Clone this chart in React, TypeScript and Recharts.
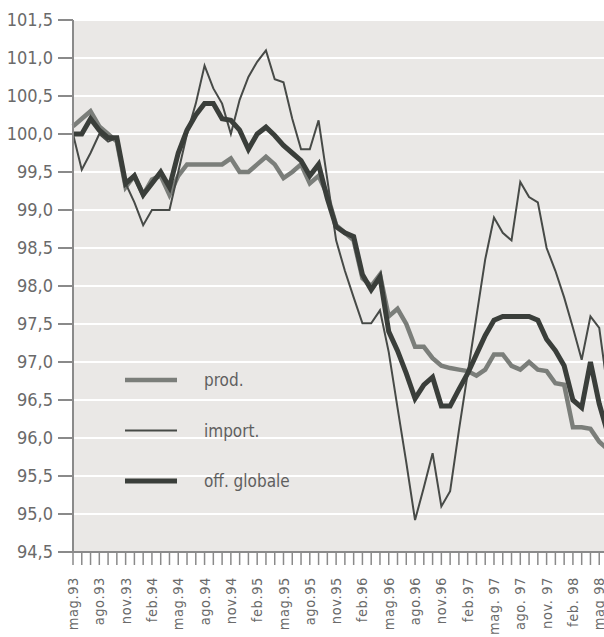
import { LineChart, Line, XAxis, YAxis, CartesianGrid, Legend } from "recharts";

// monthly index, mag. 1993 - giu. 1998
const months = [
  "mag.93", "giu.93", "lug.93", "ago.93", "set.93", "ott.93", "nov.93", "dic.93",
  "gen.94", "feb.94", "mar.94", "apr.94", "mag.94", "giu.94", "lug.94", "ago.94", "set.94", "ott.94", "nov.94", "dic.94",
  "gen.95", "feb.95", "mar.95", "apr.95", "mag.95", "giu.95", "lug.95", "ago.95", "set.95", "ott.95", "nov.95", "dic.95",
  "gen.96", "feb.96", "mar.96", "apr.96", "mag.96", "giu.96", "lug.96", "ago.96", "set.96", "ott.96", "nov.96", "dic.96",
  "gen.97", "feb.97", "mar.97", "apr.97", "mag.97", "giu.97", "lug.97", "ago.97", "set.97", "ott.97", "nov.97", "dic.97",
  "gen.98", "feb.98", "mar.98", "apr.98", "mag.98", "giu.98",
];

// one label every third month
const tickLabels = [
  "mag.93", "ago.93", "nov.93", "feb.94", "mag.94", "ago.94", "nov.94", "feb.95", "mag.95", "ago.95",
  "nov.95", "feb.96", "mag.96", "ago.96", "nov.96", "feb.97", "mag. 97", "ago. 97", "nov. 97", "feb. 98", "mag 98",
];

const prod = [
  100.1, 100.2, 100.3, 100.1, 100.0, 99.9, 99.3, 99.45, 99.2, 99.4,
  99.45, 99.2, 99.45, 99.6, 99.6, 99.6, 99.6, 99.6, 99.68, 99.5,
  99.5, 99.6, 99.7, 99.6, 99.42, 99.5, 99.6, 99.35, 99.45, 99.2,
  98.8, 98.7, 98.6, 98.1, 98.0, 98.15, 97.6, 97.7, 97.5, 97.2,
  97.2, 97.05, 96.95, 96.92, 96.9, 96.88, 96.82, 96.9, 97.1, 97.1,
  96.95, 96.9, 97.0, 96.9, 96.88, 96.72, 96.7, 96.14, 96.14, 96.12,
  95.95, 95.85,
];

const importVals = [
  100.0, 99.53, 99.75, 100.0, 99.9, 99.95, 99.35, 99.1, 98.8, 99.0,
  99.0, 99.0, 99.5, 100.0, 100.4, 100.9, 100.6, 100.4, 100.0, 100.45,
  100.75, 100.95, 101.1, 100.72, 100.68, 100.2, 99.8, 99.8, 100.18, 99.4,
  98.6, 98.2, 97.85, 97.51, 97.51, 97.68, 97.13, 96.4, 95.68, 94.92,
  95.35, 95.8, 95.1, 95.3, 96.1, 96.85, 97.6, 98.35, 98.9, 98.7,
  98.6, 99.37, 99.17, 99.1, 98.5, 98.2, 97.85, 97.45, 97.03, 97.6,
  97.45, 96.6,
];

const offGlobale = [
  100.0, 100.0, 100.2, 100.05, 99.95, 99.95, 99.35, 99.45, 99.2, 99.35,
  99.5, 99.3, 99.75, 100.05, 100.25, 100.4, 100.4, 100.2, 100.18, 100.05,
  99.8, 100.0, 100.09, 99.98, 99.85, 99.75, 99.65, 99.45, 99.6, 99.15,
  98.78, 98.7, 98.65, 98.15, 97.95, 98.12, 97.4, 97.15, 96.85, 96.52,
  96.7, 96.8, 96.42, 96.42, 96.64, 96.85, 97.1, 97.35, 97.55, 97.6,
  97.6, 97.6, 97.6, 97.55, 97.3, 97.15, 96.95, 96.5, 96.4, 97.0,
  96.45, 96.05,
];

const yTicks = [94.5, 95, 95.5, 96, 96.5, 97, 97.5, 98, 98.5, 99, 99.5, 100, 100.5, 101, 101.5];

const data = months.map((m, i) => ({
  month: m,
  prod: prod[i],
  imp: importVals[i],
  off: offGlobale[i],
}));

const FONT = '"DejaVu Sans Condensed", "Liberation Sans Narrow", sans-serif';
const AXIS = "#8a8a8a";
const TEXT = "#6a6a6a";

const C_PROD = "#7b7e7a";
const C_IMP = "#474a47";
const C_OFF = "#3a3e3a";

const MonthTick = (props: any) => {
  const { x, y, index } = props;
  if (index % 3 !== 0) return <g />;
  const label = tickLabels[index / 3];
  return (
    <text
      x={x}
      y={y}
      transform={`rotate(-90, ${x}, ${y})`}
      textAnchor="end"
      dy="0.35em"
      fill={TEXT}
      fontSize={14.5}
      letterSpacing={0.6}
      fontFamily={FONT}
    >
      {label}
    </text>
  );
};

// legend drawn inside the plot, lower left
const legendRows = [
  { name: "prod.", color: C_PROD, width: 4.5 },
  { name: "import.", color: C_IMP, width: 2 },
  { name: "off. globale", color: C_OFF, width: 5 },
];

const renderLegend = () => (
  <svg width={220} height={160} style={{ display: "block" }}>
    {legendRows.map((r, i) => {
      const y = 30 + i * 50.5;
      return (
        <g key={r.name}>
          <line x1={5} x2={57} y1={y} y2={y} stroke={r.color} strokeWidth={r.width} />
          <text x={84} y={y} dominantBaseline="central" fill="#5f5f5f" fontSize={17} fontFamily={FONT}>
            {r.name}
          </text>
        </g>
      );
    })}
  </svg>
);

export default function App() {
  return (
    <div style={{ position: "absolute", left: 0, top: 0, width: 604, height: 637, overflow: "hidden", background: "#fff" }}>
      <LineChart width={612} height={637} data={data} margin={{ top: 20, right: 4, bottom: 0, left: 0 }}>
        <CartesianGrid vertical={false} stroke="#ffffff" strokeWidth={2} fill="#eae8e6" />
        <XAxis
          dataKey="month"
          interval={0}
          height={85}
          tickSize={13}
          tickMargin={12}
          tick={MonthTick}
          axisLine={{ stroke: AXIS, strokeWidth: 2 }}
          tickLine={{ stroke: AXIS, strokeWidth: 1.5 }}
        />
        <YAxis
          domain={[94.5, 101.5]}
          ticks={yTicks}
          width={73}
          tickSize={15}
          tickMargin={5}
          interval={0}
          tickFormatter={(v: number) => v.toFixed(1).replace(".", ",")}
          tick={{ fill: TEXT, fontSize: 18, fontFamily: FONT }}
          axisLine={{ stroke: AXIS, strokeWidth: 2 }}
          tickLine={{ stroke: AXIS, strokeWidth: 2 }}
        />
        <Legend
          layout="vertical"
          align="center"
          verticalAlign="middle"
          content={renderLegend}
          wrapperStyle={{ left: 120, top: 350, width: 220, height: 160 }}
        />
        <Line type="linear" dataKey="prod" name="prod." stroke={C_PROD} strokeWidth={4.5} dot={false} isAnimationActive={false} />
        <Line type="linear" dataKey="imp" name="import." stroke={C_IMP} strokeWidth={2} dot={false} isAnimationActive={false} />
        <Line type="linear" dataKey="off" name="off. globale" stroke={C_OFF} strokeWidth={5} dot={false} isAnimationActive={false} />
      </LineChart>
    </div>
  );
}
